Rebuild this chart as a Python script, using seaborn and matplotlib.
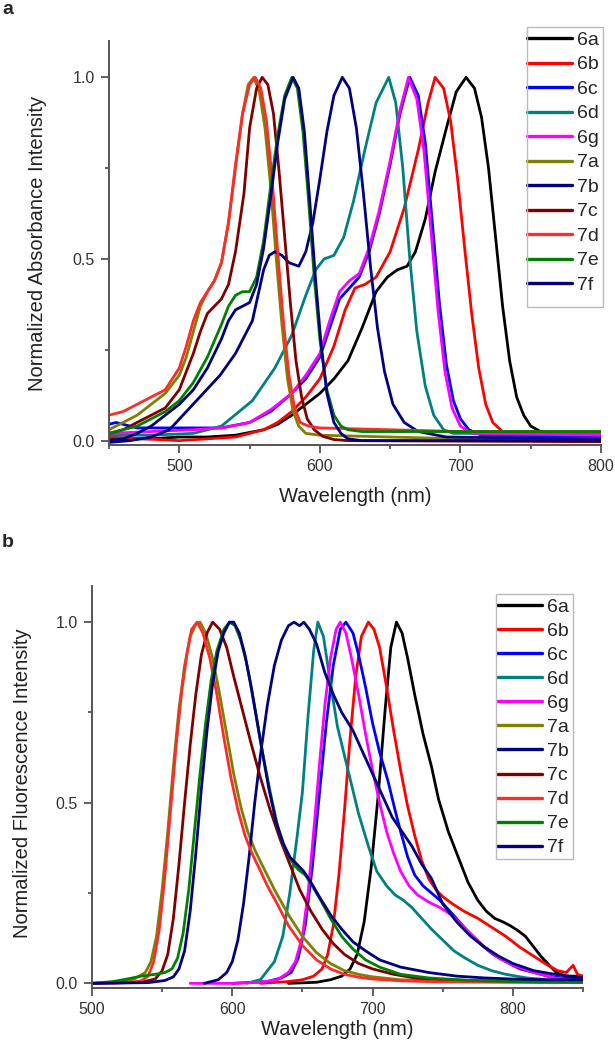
import numpy as np
import pandas as pd
import matplotlib
matplotlib.use("Agg")
import matplotlib.pyplot as plt
from matplotlib.lines import Line2D
from matplotlib.patches import Rectangle
from matplotlib.ticker import MultipleLocator, FormatStrFormatter
import seaborn as sns

names = ["6a", "6b", "6c", "6d", "6g", "7a", "7b", "7c", "7d", "7e", "7f"]
colors = ["#000000", "#FF0000", "#0000FF", "#008080", "#FF00FF", "#808000",
          "#000080", "#800000", "#FF2a2a", "#008000", "#000080"]

# ---- panel a: absorbance ----
a6a_x = [450, 480, 500, 520, 540, 560, 570, 580, 590, 600, 610, 620, 630, 640, 648, 655, 662, 668, 675, 682, 690, 697, 704, 710, 715, 720, 725, 730, 735, 740, 745, 750, 757, 770, 800]
a6a_y = [0.005, 0.005, 0.01, 0.01, 0.015, 0.03, 0.045, 0.07, 0.10, 0.13, 0.17, 0.22, 0.31, 0.41, 0.45, 0.47, 0.48, 0.52, 0.61, 0.74, 0.86, 0.96, 1.0, 0.97, 0.89, 0.75, 0.56, 0.37, 0.22, 0.12, 0.07, 0.04, 0.025, 0.015, 0.015]
a6b_x = [450, 500, 540, 560, 570, 580, 590, 600, 610, 618, 625, 632, 640, 650, 660, 670, 677, 682, 688, 693, 698, 703, 708, 713, 718, 723, 730, 740, 800]
a6b_y = [0.01, 0.0, 0.01, 0.03, 0.05, 0.08, 0.12, 0.17, 0.26, 0.36, 0.42, 0.43, 0.45, 0.52, 0.64, 0.80, 0.93, 1.0, 0.97, 0.88, 0.72, 0.53, 0.35, 0.20, 0.10, 0.05, 0.025, 0.015, 0.015]
a6c_x = [450, 455, 470, 490, 510, 530, 550, 565, 580, 590, 600, 607, 614, 621, 628, 635, 642, 650, 657, 664, 670, 675, 680, 685, 690, 695, 700, 706, 715, 800]
a6c_y = [0.045, 0.05, 0.035, 0.035, 0.035, 0.035, 0.05, 0.08, 0.13, 0.17, 0.23, 0.31, 0.39, 0.42, 0.45, 0.52, 0.62, 0.76, 0.90, 1.0, 0.95, 0.82, 0.60, 0.38, 0.21, 0.11, 0.06, 0.03, 0.015, 0.01]
a6d_x = [450, 480, 510, 530, 552, 568, 580, 590, 597, 603, 610, 617, 624, 632, 640, 649, 654, 659, 664, 669, 675, 681, 688, 695, 800]
a6d_y = [0.015, 0.015, 0.02, 0.04, 0.11, 0.20, 0.29, 0.40, 0.47, 0.50, 0.51, 0.56, 0.66, 0.80, 0.93, 1.0, 0.93, 0.75, 0.50, 0.30, 0.15, 0.07, 0.03, 0.02, 0.02]
a6g_x = [450, 480, 510, 530, 550, 565, 580, 590, 600, 607, 614, 621, 628, 635, 642, 650, 657, 663, 669, 674, 679, 684, 689, 694, 700, 708, 800]
a6g_y = [0.02, 0.025, 0.03, 0.035, 0.05, 0.085, 0.13, 0.18, 0.24, 0.33, 0.41, 0.44, 0.46, 0.53, 0.63, 0.77, 0.91, 1.0, 0.94, 0.80, 0.58, 0.36, 0.19, 0.09, 0.04, 0.02, 0.015]
a7a_x = [450, 460, 470, 480, 490, 500, 505, 510, 515, 520, 525, 530, 535, 540, 545, 549, 553, 557, 561, 565, 569, 573, 577, 581, 585, 590, 600, 650, 700, 800]
a7a_y = [0.03, 0.05, 0.07, 0.10, 0.13, 0.18, 0.23, 0.30, 0.37, 0.41, 0.44, 0.49, 0.60, 0.75, 0.90, 0.98, 1.0, 0.96, 0.86, 0.70, 0.50, 0.32, 0.17, 0.08, 0.04, 0.02, 0.015, 0.01, 0.005, 0.005]
a7b_x = [450, 465, 480, 493, 505, 517, 529, 540, 552, 556, 560, 564, 568, 573, 578, 585, 590, 595, 600, 605, 610, 616, 621, 626, 631, 636, 641, 646, 652, 660, 670, 690, 800]
a7b_y = [-0.005, 0.0, 0.01, 0.03, 0.08, 0.13, 0.18, 0.24, 0.33, 0.40, 0.47, 0.51, 0.52, 0.51, 0.49, 0.48, 0.52, 0.60, 0.72, 0.85, 0.95, 1.0, 0.97, 0.86, 0.68, 0.48, 0.31, 0.19, 0.10, 0.05, 0.025, 0.01, 0.005]
a7c_x = [450, 460, 470, 480, 490, 500, 510, 515, 520, 525, 530, 535, 540, 546, 550, 555, 559, 563, 567, 571, 575, 579, 583, 587, 591, 596, 602, 610, 620, 800]
a7c_y = [0.02, 0.03, 0.05, 0.07, 0.09, 0.14, 0.24, 0.30, 0.35, 0.37, 0.39, 0.43, 0.52, 0.68, 0.86, 0.97, 1.0, 0.98, 0.90, 0.74, 0.56, 0.38, 0.22, 0.12, 0.06, 0.03, 0.012, 0.003, 0.0, -0.003]
a7d_x = [450, 460, 470, 480, 490, 500, 505, 510, 515, 520, 525, 530, 535, 540, 545, 550, 554, 558, 562, 566, 570, 574, 578, 582, 586, 592, 600, 650, 700, 800]
a7d_y = [0.07, 0.08, 0.10, 0.12, 0.14, 0.20, 0.26, 0.33, 0.38, 0.41, 0.44, 0.49, 0.60, 0.76, 0.90, 0.98, 1.0, 0.97, 0.88, 0.72, 0.52, 0.33, 0.18, 0.09, 0.05, 0.04, 0.035, 0.03, 0.025, 0.025]
a7e_x = [450, 460, 470, 480, 490, 500, 510, 520, 530, 535, 540, 545, 550, 555, 560, 565, 570, 575, 580, 584, 588, 592, 596, 600, 605, 610, 615, 620, 630, 800]
a7e_y = [0.02, 0.03, 0.04, 0.06, 0.08, 0.11, 0.16, 0.23, 0.32, 0.37, 0.40, 0.41, 0.41, 0.45, 0.55, 0.70, 0.84, 0.95, 1.0, 0.97, 0.85, 0.66, 0.45, 0.28, 0.14, 0.07, 0.04, 0.03, 0.025, 0.025]
a7f_x = [450, 460, 470, 480, 490, 500, 510, 520, 530, 535, 540, 545, 550, 555, 560, 565, 570, 575, 581, 585, 589, 593, 597, 601, 605, 610, 615, 620, 630, 800]
a7f_y = [0.0, 0.005, 0.02, 0.04, 0.07, 0.10, 0.14, 0.20, 0.28, 0.33, 0.36, 0.37, 0.38, 0.43, 0.53, 0.67, 0.82, 0.94, 1.0, 0.97, 0.85, 0.65, 0.44, 0.26, 0.13, 0.05, 0.02, 0.005, 0.0, 0.0]

# ---- panel b: fluorescence ----
f6a_x = [640, 660, 670, 678, 684, 689, 694, 699, 704, 709, 713, 717, 721, 725, 730, 736, 742, 747, 754, 761, 768, 775, 781, 787, 793, 798, 804, 809, 815, 820, 826, 831, 838, 845, 850]
f6a_y = [0.0, 0.003, 0.01, 0.02, 0.04, 0.08, 0.17, 0.32, 0.52, 0.76, 0.93, 1.0, 0.97, 0.90, 0.80, 0.69, 0.60, 0.51, 0.42, 0.35, 0.28, 0.23, 0.20, 0.18, 0.17, 0.16, 0.145, 0.13, 0.10, 0.075, 0.05, 0.03, 0.02, 0.02, 0.015]
f6b_x = [620, 640, 650, 658, 664, 668, 672, 676, 680, 684, 688, 692, 697, 701, 705, 710, 715, 720, 725, 730, 735, 740, 745, 750, 757, 765, 775, 785, 795, 805, 815, 825, 832, 838, 843, 846, 850]
f6b_y = [0.0, 0.005, 0.01, 0.02, 0.04, 0.08, 0.16, 0.30, 0.48, 0.68, 0.85, 0.96, 1.0, 0.98, 0.93, 0.82, 0.70, 0.59, 0.49, 0.41, 0.34, 0.29, 0.26, 0.24, 0.22, 0.20, 0.18, 0.155, 0.13, 0.10, 0.075, 0.05, 0.035, 0.03, 0.05, 0.025, 0.02]
f6c_x = [600, 625, 635, 642, 647, 652, 657, 662, 667, 672, 677, 681, 686, 690, 695, 700, 705, 711, 716, 720, 725, 730, 736, 742, 748, 755, 762, 770, 778, 786, 795, 805, 815, 825, 835, 850]
f6c_y = [0.0, 0.005, 0.015, 0.03, 0.07, 0.16, 0.32, 0.52, 0.72, 0.88, 0.98, 1.0, 0.97, 0.91, 0.82, 0.72, 0.64, 0.56, 0.48, 0.42, 0.35, 0.30, 0.27, 0.25, 0.23, 0.20, 0.17, 0.135, 0.105, 0.08, 0.06, 0.04, 0.03, 0.02, 0.015, 0.01]
f6d_x = [610, 620, 630, 636, 641, 646, 650, 654, 658, 661, 665, 670, 675, 680, 685, 690, 697, 703, 710, 716, 722, 728, 735, 742, 750, 758, 766, 775, 785, 795, 810, 825, 840, 850]
f6d_y = [0.0, 0.01, 0.06, 0.13, 0.25, 0.40, 0.53, 0.74, 0.92, 1.0, 0.96, 0.83, 0.71, 0.63, 0.55, 0.47, 0.38, 0.31, 0.27, 0.245, 0.23, 0.21, 0.18, 0.15, 0.12, 0.09, 0.07, 0.05, 0.035, 0.025, 0.015, 0.01, 0.01, 0.01]
f6g_x = [570, 600, 620, 632, 640, 645, 650, 654, 658, 662, 666, 670, 674, 677, 681, 685, 690, 695, 700, 705, 710, 715, 720, 726, 732, 740, 748, 756, 764, 772, 780, 790, 800, 815, 830, 840]
f6g_y = [0.0, 0.0, 0.003, 0.01, 0.03, 0.06, 0.13, 0.25, 0.42, 0.60, 0.77, 0.90, 0.98, 1.0, 0.97, 0.90, 0.80, 0.69, 0.59, 0.50, 0.42, 0.36, 0.31, 0.27, 0.245, 0.225, 0.21, 0.19, 0.16, 0.13, 0.10, 0.07, 0.05, 0.03, 0.015, 0.01]
f7a_x = [500, 520, 530, 538, 542, 546, 550, 554, 558, 562, 566, 570, 574, 577, 581, 586, 591, 596, 601, 606, 611, 616, 621, 630, 640, 650, 660, 670, 680, 690, 700, 720, 750, 800, 850]
f7a_y = [0.0, 0.004, 0.012, 0.03, 0.06, 0.13, 0.26, 0.42, 0.60, 0.76, 0.88, 0.96, 0.995, 1.0, 0.97, 0.90, 0.80, 0.69, 0.58, 0.49, 0.42, 0.37, 0.33, 0.26, 0.19, 0.13, 0.085, 0.055, 0.035, 0.025, 0.018, 0.01, 0.006, 0.004, 0.003]
f7b_x = [580, 590, 596, 600, 604, 608, 612, 616, 620, 625, 630, 635, 640, 644, 648, 651, 655, 660, 666, 672, 678, 686, 693, 700, 707, 714, 721, 728, 735, 742, 750, 760, 770, 780, 790, 800, 815, 830, 850]
f7b_y = [0.0, 0.01, 0.03, 0.06, 0.12, 0.22, 0.35, 0.50, 0.63, 0.77, 0.88, 0.95, 0.99, 1.0, 0.99, 1.0, 0.98, 0.94, 0.86, 0.80, 0.75, 0.70, 0.64, 0.58, 0.52, 0.46, 0.42, 0.38, 0.33, 0.29, 0.22, 0.17, 0.13, 0.10, 0.075, 0.055, 0.035, 0.025, 0.015]
f7c_x = [500, 535, 545, 550, 554, 558, 562, 566, 570, 574, 578, 582, 586, 591, 596, 601, 607, 613, 620, 627, 634, 641, 648, 656, 664, 672, 680, 690, 700, 715, 730, 750, 800, 850]
f7c_y = [0.0, 0.003, 0.012, 0.035, 0.08, 0.18, 0.33, 0.50, 0.66, 0.80, 0.91, 0.97, 1.0, 0.98, 0.93, 0.85, 0.76, 0.67, 0.57, 0.48, 0.40, 0.33, 0.26, 0.20, 0.15, 0.11, 0.08, 0.055, 0.04, 0.025, 0.015, 0.01, 0.005, 0.003]
f7d_x = [500, 525, 535, 540, 544, 548, 552, 556, 560, 564, 568, 571, 575, 579, 584, 589, 594, 599, 604, 609, 614, 619, 625, 632, 640, 650, 660, 670, 680, 690, 700, 720, 750, 800, 850]
f7d_y = [0.0, 0.002, 0.007, 0.02, 0.06, 0.15, 0.30, 0.48, 0.66, 0.81, 0.92, 0.98, 1.0, 0.97, 0.90, 0.80, 0.68, 0.57, 0.48, 0.41, 0.36, 0.32, 0.27, 0.22, 0.16, 0.105, 0.065, 0.04, 0.025, 0.017, 0.012, 0.007, 0.004, 0.003, 0.002]
f7e_x = [500, 515, 525, 535, 545, 552, 557, 561, 565, 569, 573, 577, 581, 585, 589, 594, 598, 602, 606, 610, 614, 618, 622, 627, 632, 637, 642, 647, 652, 657, 663, 670, 678, 686, 695, 705, 720, 740, 770, 800, 850]
f7e_y = [0.0, 0.005, 0.012, 0.02, 0.025, 0.03, 0.04, 0.07, 0.14, 0.26, 0.42, 0.58, 0.72, 0.84, 0.92, 0.98, 1.0, 0.99, 0.95, 0.89, 0.81, 0.72, 0.63, 0.53, 0.44, 0.38, 0.34, 0.315, 0.30, 0.27, 0.23, 0.18, 0.13, 0.095, 0.065, 0.045, 0.025, 0.015, 0.008, 0.005, 0.003]
f7f_x = [500, 540, 552, 558, 562, 566, 570, 574, 578, 582, 586, 590, 594, 598, 601, 605, 609, 613, 617, 621, 626, 631, 636, 641, 646, 651, 656, 662, 670, 678, 686, 695, 705, 720, 740, 760, 780, 800, 825, 850]
f7f_y = [0.0, 0.002, 0.008, 0.018, 0.04, 0.09, 0.20, 0.36, 0.54, 0.70, 0.83, 0.92, 0.97, 1.0, 1.0, 0.97, 0.91, 0.83, 0.74, 0.65, 0.54, 0.45, 0.39, 0.35, 0.33, 0.31, 0.28, 0.24, 0.19, 0.15, 0.115, 0.09, 0.065, 0.045, 0.03, 0.02, 0.015, 0.012, 0.01, 0.01]

abs_series = [(a6a_x, a6a_y), (a6b_x, a6b_y), (a6c_x, a6c_y), (a6d_x, a6d_y), (a6g_x, a6g_y),
              (a7a_x, a7a_y), (a7b_x, a7b_y), (a7c_x, a7c_y), (a7d_x, a7d_y), (a7e_x, a7e_y), (a7f_x, a7f_y)]
fl_series = [(f6a_x, f6a_y), (f6b_x, f6b_y), (f6c_x, f6c_y), (f6d_x, f6d_y), (f6g_x, f6g_y),
             (f7a_x, f7a_y), (f7b_x, f7b_y), (f7c_x, f7c_y), (f7d_x, f7d_y), (f7e_x, f7e_y), (f7f_x, f7f_y)]


def long_df(series):
    rows = []
    for name, (xs, ys) in zip(names, series):
        for x, y in zip(xs, ys):
            rows.append((name, x, y))
    return pd.DataFrame(rows, columns=["dye", "wl", "val"])


sns.set_style("ticks")
plt.rcParams["font.family"] = ["Liberation Sans", "DejaVu Sans"]

W, H = 615, 1050
palette = dict(zip(names, colors))
fig = plt.figure(figsize=(W / 100, H / 100), dpi=100)
ax1 = fig.add_axes([109 / W, 1 - 445 / H, 492 / W, 404 / H])
ax2 = fig.add_axes([92 / W, 1 - 987.7 / H, 491 / W, 401.7 / H])

# (axes, data, xlim, ylabel, legend anchor px, legend box px (x0, y0, x1, y1), row spacing, tag, tag y)
panels = [
    (ax1, abs_series, (450, 800), "Normalized Absorbance Intensity",
     (527, 31.2), (527, 27, 603, 307), 0.355, "a", 1),
    (ax2, fl_series, (500, 850), "Normalized Fluorescence Intensity",
     (497, 598.5), (496, 594, 573, 859), 0.33, "b", 534),
]

for ax, series, xlim, ylab, anchor, box, spacing, tag, tagy in panels:
    df = long_df(series)
    sns.lineplot(data=df, x="wl", y="val", hue="dye", hue_order=names, palette=palette,
                 estimator=None, sort=True, lw=2.0, legend=False, ax=ax)
    ax.set_xlim(*xlim)
    ax.set_ylim(-0.012, 1.1)
    ax.xaxis.set_major_locator(MultipleLocator(100))
    ax.xaxis.set_minor_locator(MultipleLocator(50))
    ax.yaxis.set_major_locator(MultipleLocator(0.5))
    ax.yaxis.set_minor_locator(MultipleLocator(0.25))
    ax.yaxis.set_major_formatter(FormatStrFormatter("%.1f"))
    sns.despine(ax=ax)
    for s in ["left", "bottom"]:
        ax.spines[s].set_color("#555555")
        ax.spines[s].set_linewidth(1.4)
    ax.tick_params(which="major", length=5.8, width=1.2, color="#444444",
                   labelsize=11.5, labelcolor="#333333", pad=4.5)
    ax.tick_params(which="minor", length=3, width=1.2, color="#444444")
    ax.set_xlabel("Wavelength (nm)", fontsize=14.5, color="#222222")
    ax.set_ylabel(ylab, fontsize=14.5, color="#222222")

    handles = [Line2D([], [], color=c, lw=2.4) for c in colors]
    ax.legend(handles, names, loc="upper left",
              bbox_to_anchor=(anchor[0] / W, 1 - anchor[1] / H),
              bbox_transform=fig.transFigure, borderaxespad=0, borderpad=0,
              fontsize=14, handlelength=2.3, handletextpad=0.26,
              labelspacing=spacing, frameon=False)
    x0, y0, x1, y1 = box
    fig.add_artist(Rectangle((x0 / W, 1 - y1 / H), (x1 - x0) / W, (y1 - y0) / H,
                             transform=fig.transFigure, fill=False,
                             ec="#BBBBBB", lw=1.0))
    fig.text(2 / W, 1 - tagy / H, tag, fontsize=14, fontweight="bold", va="top", ha="left")

ax1.yaxis.set_label_coords(-0.126, 0.5)
ax1.xaxis.set_label_coords(0.5, -0.104)
ax2.yaxis.set_label_coords(-0.123, 0.51)
ax2.xaxis.set_label_coords(0.5, -0.08)

fig.savefig("out.png", dpi=100)
